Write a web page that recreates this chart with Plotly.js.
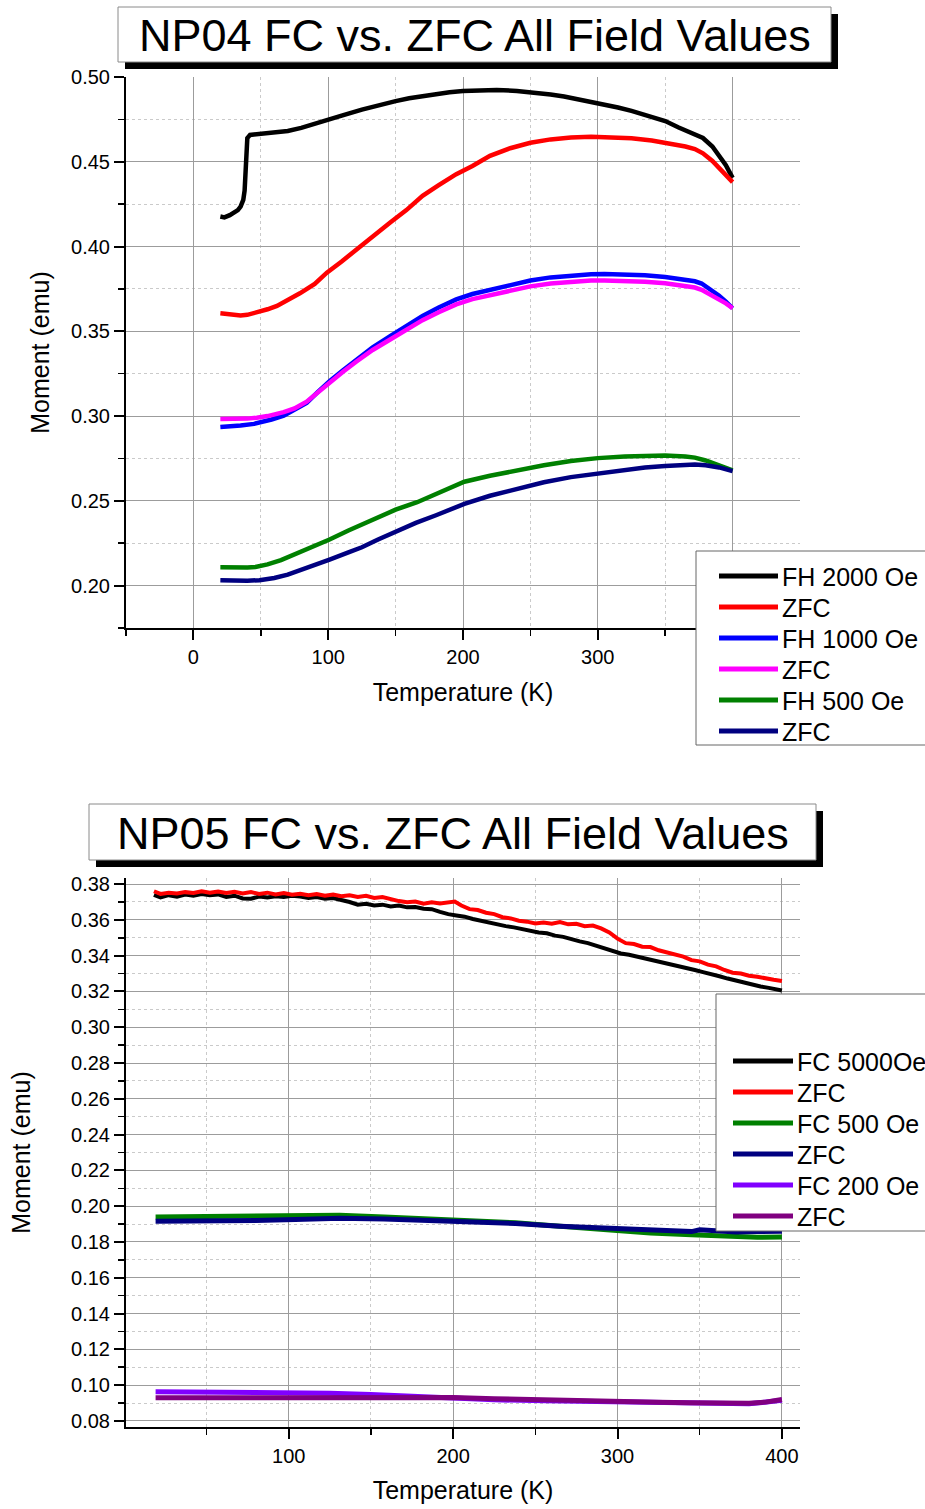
<!DOCTYPE html>
<html>
<head>
<meta charset="utf-8">
<script src="https://cdn.plot.ly/plotly-3.0.1.min.js"></script>
<style>
html,body{margin:0;padding:0;background:#fff;}
#chart{width:925px;height:1509px;}
</style>
</head>
<body>
<div id="chart"></div>
<script>
// ---------------- DATA : NP04 ----------------
const np04Title = 'NP04 FC vs. ZFC All Field Values';
const np04Names = ['FH 2000 Oe', 'ZFC', 'FH 1000 Oe', 'ZFC', 'FH 500 Oe', 'ZFC'];

const np04_fh2000_T = [20, 23, 27, 30, 33, 35, 37, 38, 38.6, 39.2, 40, 42, 45, 50, 60, 70, 80, 90, 100, 110, 125, 140, 150, 160, 175, 190, 200, 210, 225, 240, 250, 265, 275, 290, 300, 315, 325, 340, 350, 360, 367, 372, 378, 385, 390, 395, 400];
const np04_fh2000_M = [0.4177, 0.4172, 0.4185, 0.4197, 0.4215, 0.4235, 0.4275, 0.4330, 0.4400, 0.4550, 0.4640, 0.4658, 0.4660, 0.4662, 0.4670, 0.4682, 0.4700, 0.4722, 0.4747, 0.4772, 0.4808, 0.4840, 0.4858, 0.4875, 0.4894, 0.4910, 0.4917, 0.4921, 0.4923, 0.4918, 0.4912, 0.4897, 0.4885, 0.4862, 0.4847, 0.4820, 0.4800, 0.4765, 0.4740, 0.4702, 0.4680, 0.4665, 0.4640, 0.4590, 0.4540, 0.4480, 0.4405];

const np04_zfc2000_T = [20, 25, 30, 35, 40, 47, 55, 62, 70, 79, 90, 99, 110, 121, 133, 146, 158, 170, 182, 195, 207, 220, 235, 250, 265, 280, 295, 310, 325, 340, 350, 365, 372, 378, 385, 392, 400];
const np04_zfc2000_M = [0.3606, 0.3600, 0.3596, 0.3594, 0.3597, 0.3610, 0.3630, 0.3650, 0.3682, 0.3724, 0.3780, 0.3846, 0.3912, 0.3984, 0.4062, 0.4142, 0.4215, 0.4299, 0.4362, 0.4427, 0.4475, 0.4535, 0.4580, 0.4612, 0.4632, 0.4643, 0.4647, 0.4645, 0.4638, 0.4625, 0.4612, 0.4590, 0.4575, 0.4550, 0.4505, 0.4450, 0.4380];

const np04_fh1000_T = [20, 25, 35, 45, 50, 58, 67, 75, 84, 92, 101, 111, 121, 133, 146, 158, 170, 182, 195, 207, 220, 235, 250, 265, 280, 295, 305, 320, 335, 350, 362, 372, 377, 383, 390, 395, 400];
const np04_fh1000_M = [0.2936, 0.2938, 0.2944, 0.2954, 0.2962, 0.2980, 0.3002, 0.3035, 0.3078, 0.3140, 0.3206, 0.3270, 0.3334, 0.3405, 0.3472, 0.3532, 0.3590, 0.3640, 0.3688, 0.3720, 0.3745, 0.3775, 0.3800, 0.3818, 0.3830, 0.3837, 0.3838, 0.3836, 0.3830, 0.3820, 0.3808, 0.3795, 0.3782, 0.3750, 0.3710, 0.3675, 0.3636];

const np04_zfc1000_T = [20, 30, 40, 47, 55, 67, 75, 84, 92, 101, 111, 121, 133, 146, 158, 170, 182, 195, 207, 220, 235, 250, 265, 280, 295, 305, 320, 335, 350, 362, 372, 377, 383, 390, 395, 400];
const np04_zfc1000_M = [0.2983, 0.2982, 0.2985, 0.2990, 0.3000, 0.3023, 0.3045, 0.3085, 0.3140, 0.3200, 0.3262, 0.3322, 0.3390, 0.3452, 0.3510, 0.3566, 0.3612, 0.3659, 0.3690, 0.3712, 0.3740, 0.3765, 0.3782, 0.3793, 0.3799, 0.3800, 0.3798, 0.3792, 0.3784, 0.3772, 0.3758, 0.3745, 0.3718, 0.3690, 0.3665, 0.3636];

const np04_fh500_T = [20, 30, 40, 46, 55, 65, 78, 90, 101, 115, 125, 137, 150, 166, 180, 201, 220, 245, 260, 280, 300, 320, 335, 350, 365, 372, 380, 390, 400];
const np04_fh500_M = [0.2108, 0.2106, 0.2107, 0.2110, 0.2125, 0.2150, 0.2192, 0.2232, 0.2272, 0.2325, 0.2360, 0.2402, 0.2448, 0.2492, 0.2540, 0.2613, 0.2648, 0.2690, 0.2710, 0.2735, 0.2752, 0.2762, 0.2768, 0.2768, 0.2762, 0.2755, 0.2738, 0.2712, 0.2680];

const np04_zfc500_T = [20, 30, 40, 49, 60, 70, 80, 90, 101, 115, 125, 137, 150, 165, 180, 201, 220, 245, 260, 280, 301, 320, 335, 350, 362, 372, 380, 390, 400];
const np04_zfc500_M = [0.2032, 0.2029, 0.2029, 0.2032, 0.2045, 0.2065, 0.2092, 0.2122, 0.2154, 0.2196, 0.2226, 0.2272, 0.2320, 0.2370, 0.2415, 0.2482, 0.2530, 0.2583, 0.2610, 0.2640, 0.2663, 0.2685, 0.2697, 0.2706, 0.2712, 0.2714, 0.2710, 0.2697, 0.2675];

// ---------------- DATA : NP05 ----------------
const np05Title = 'NP05 FC vs. ZFC All Field Values';
const np05Names = ['FC 5000Oe', 'ZFC', 'FC 500 Oe', 'ZFC', 'FC 200 Oe', 'ZFC'];

const np05_fc5000_T = [18, 22, 27, 32, 37, 42, 47, 52, 57, 62, 67, 72, 77, 82, 87, 92, 97, 102, 107, 112, 117, 122, 127, 132, 137, 142, 147, 152, 157, 162, 167, 172, 177, 182, 187, 192, 197, 202, 207, 212, 217, 222, 227, 232, 237, 242, 247, 252, 257, 262, 267, 272, 277, 282, 287, 292, 297, 302, 307, 312, 317, 322, 327, 332, 337, 342, 347, 352, 357, 362, 367, 372, 377, 382, 387, 392, 397, 400];
const np05_fc5000_M = [0.3740, 0.3725, 0.3738, 0.3730, 0.3742, 0.3735, 0.3745, 0.3738, 0.3742, 0.3728, 0.3735, 0.3720, 0.3718, 0.3730, 0.3725, 0.3732, 0.3728, 0.3735, 0.3730, 0.3722, 0.3728, 0.3718, 0.3722, 0.3712, 0.3700, 0.3685, 0.3690, 0.3680, 0.3685, 0.3675, 0.3680, 0.3670, 0.3672, 0.3662, 0.3660, 0.3645, 0.3632, 0.3625, 0.3618, 0.3605, 0.3595, 0.3580, 0.3572, 0.3565, 0.3558, 0.3548, 0.3540, 0.3530, 0.3525, 0.3512, 0.3505, 0.3490, 0.3480, 0.3470, 0.3455, 0.3440, 0.3425, 0.3412, 0.3405, 0.3395, 0.3385, 0.3372, 0.3362, 0.3352, 0.3340, 0.3330, 0.3320, 0.3308, 0.3298, 0.3285, 0.3272, 0.3260, 0.3250, 0.3238, 0.3228, 0.3220, 0.3212, 0.3205];

const np05_zfc5000_T = [18, 22, 27, 32, 37, 42, 47, 52, 57, 62, 67, 72, 77, 82, 87, 92, 97, 102, 107, 112, 117, 122, 127, 132, 137, 142, 147, 152, 157, 162, 167, 172, 177, 182, 187, 192, 197, 201, 205, 210, 215, 220, 225, 230, 235, 240, 245, 250, 255, 260, 265, 270, 275, 280, 285, 290, 295, 300, 305, 310, 315, 320, 325, 330, 335, 340, 345, 350, 355, 360, 365, 370, 375, 380, 385, 390, 395, 400];
const np05_zfc5000_M = [0.3760, 0.3745, 0.3752, 0.3748, 0.3755, 0.3750, 0.3760, 0.3752, 0.3758, 0.3750, 0.3757, 0.3748, 0.3755, 0.3745, 0.3752, 0.3742, 0.3750, 0.3740, 0.3746, 0.3738, 0.3745, 0.3735, 0.3742, 0.3732, 0.3738, 0.3728, 0.3735, 0.3722, 0.3728, 0.3715, 0.3705, 0.3698, 0.3702, 0.3690, 0.3698, 0.3692, 0.3700, 0.3702, 0.3680, 0.3660, 0.3655, 0.3640, 0.3632, 0.3615, 0.3608, 0.3595, 0.3590, 0.3580, 0.3585, 0.3578, 0.3588, 0.3575, 0.3578, 0.3565, 0.3568, 0.3552, 0.3530, 0.3495, 0.3470, 0.3465, 0.3450, 0.3448, 0.3430, 0.3420, 0.3405, 0.3395, 0.3375, 0.3368, 0.3350, 0.3340, 0.3320, 0.3305, 0.3300, 0.3288, 0.3282, 0.3272, 0.3265, 0.3258];

const np05_fc500_T = [19, 50, 80, 104, 131, 158, 180, 200, 220, 238, 255, 265, 285, 300, 320, 345, 360, 372, 385, 400];
const np05_fc500_M = [0.1940, 0.1944, 0.1948, 0.1950, 0.1950, 0.1940, 0.1932, 0.1925, 0.1916, 0.1907, 0.1895, 0.1888, 0.1872, 0.1860, 0.1850, 0.1841, 0.1834, 0.1828, 0.1826, 0.1828];

const np05_zfc500_T = [19, 51, 80, 104, 131, 158, 180, 200, 220, 238, 265, 285, 300, 320, 345, 350, 372, 385, 400];
const np05_zfc500_M = [0.1916, 0.1916, 0.1920, 0.1925, 0.1932, 0.1929, 0.1922, 0.1916, 0.1910, 0.1903, 0.1888, 0.1880, 0.1873, 0.1865, 0.1858, 0.1868, 0.1856, 0.1858, 0.1860];

const np05_fc200_T = [19, 50, 100, 125, 150, 175, 200, 225, 256, 280, 300, 325, 344, 360, 368, 380, 388, 395, 400];
const np05_fc200_M = [0.0963, 0.0962, 0.0959, 0.0955, 0.0948, 0.0937, 0.0925, 0.0918, 0.0912, 0.0909, 0.0907, 0.0902, 0.0897, 0.0893, 0.0892, 0.0896, 0.0903, 0.0910, 0.0916];

const np05_zfc200_T = [19, 50, 100, 125, 150, 175, 200, 225, 256, 280, 300, 325, 344, 368, 380, 390, 395, 400];
const np05_zfc200_M = [0.0929, 0.0930, 0.0931, 0.0933, 0.0935, 0.0934, 0.0931, 0.0924, 0.0916, 0.0911, 0.0907, 0.0904, 0.0901, 0.0897, 0.0899, 0.0905, 0.0912, 0.0920];

const xTitle = 'Temperature (K)';
const yTitle = 'Moment (emu)';

// ---------------- STYLE ----------------
const W = 925, H = 1509;
const FONT = '"Liberation Sans", Arial, sans-serif';
const np04Colors = ['#000000', '#ff0000', '#0000ff', '#ff00ff', '#008000', '#000080'];
const np05Colors = ['#000000', '#ff0000', '#008000', '#000080', '#8000ff', '#800080'];
const px = v => v / W;
const py = v => 1 - v / H;

function line(name, T, M, color, width, xa, ya) {
  return {type: 'scatter', mode: 'lines', name: name, x: T, y: M, xaxis: xa, yaxis: ya,
          line: {color: color, width: width}, showlegend: false, hoverinfo: 'skip'};
}

const np04Series = [
  [np04_fh2000_T, np04_fh2000_M], [np04_zfc2000_T, np04_zfc2000_M],
  [np04_fh1000_T, np04_fh1000_M], [np04_zfc1000_T, np04_zfc1000_M],
  [np04_fh500_T, np04_fh500_M], [np04_zfc500_T, np04_zfc500_M]
];
const np05Series = [
  [np05_fc5000_T, np05_fc5000_M], [np05_zfc5000_T, np05_zfc5000_M],
  [np05_fc500_T, np05_fc500_M], [np05_zfc500_T, np05_zfc500_M],
  [np05_fc200_T, np05_fc200_M], [np05_zfc200_T, np05_zfc200_M]
];
const np05Widths = [4, 4, 5, 5, 5, 5];

const data = [];
np04Series.forEach((s, i) => data.push(line(np04Names[i], s[0], s[1], np04Colors[i], 4.5, 'x', 'y')));
np05Series.forEach((s, i) => data.push(line(np05Names[i], s[0], s[1], np05Colors[i], np05Widths[i], 'x3', 'y3')));

const tickFont = {family: FONT, size: 20, color: '#000'};
const titleFont = {family: FONT, size: 25, color: '#000'};
const gridMajor = '#9c9c9c';
const gridMinor = '#cacaca';

function mainX(domain, range, anchor, standoff, minorDtick) {
  return {domain: domain, range: range, anchor: anchor, tick0: 0, dtick: 100,
    ticks: 'outside', ticklen: 10, tickwidth: 2, tickcolor: '#000',
    showline: true, linecolor: '#000', linewidth: 2, mirror: false,
    showgrid: true, gridcolor: gridMajor, gridwidth: 1, zeroline: false,
    tickfont: tickFont, automargin: false,
    title: {text: xTitle, font: titleFont, standoff: standoff},
    minor: {tick0: 0, dtick: minorDtick, ticks: 'outside', ticklen: 6, tickwidth: 1.5, tickcolor: '#000',
            showgrid: true, gridcolor: gridMinor, gridwidth: 1, griddash: 'dot'}};
}
function mainY(domain, range, anchor, dtick, minorDtick, standoff) {
  return {domain: domain, range: range, anchor: anchor, tick0: 0, dtick: dtick, tickformat: '.2f',
    ticks: 'outside', ticklen: 10, tickwidth: 2, tickcolor: '#000',
    showline: true, linecolor: '#000', linewidth: 2,
    showgrid: true, gridcolor: gridMajor, gridwidth: 1, zeroline: false,
    tickfont: tickFont, automargin: false,
    title: {text: yTitle, font: titleFont, standoff: standoff},
    minor: {tick0: 0, dtick: minorDtick, ticks: 'outside', ticklen: 6, tickwidth: 1.5, tickcolor: '#000',
            showgrid: true, gridcolor: gridMinor, gridwidth: 1, griddash: 'dot'}};
}
function mirrorX(overlay, anchor, range, minorDtick) {
  return {overlaying: overlay, anchor: anchor, side: 'top', range: range, tick0: 0, dtick: 100,
    ticks: 'inside', ticklen: 10, tickwidth: 2, tickcolor: '#000', showticklabels: false,
    showline: true, linecolor: '#000', linewidth: 2, showgrid: false, zeroline: false,
    minor: {tick0: 0, dtick: minorDtick, ticks: 'inside', ticklen: 6, tickwidth: 1.5, tickcolor: '#000', showgrid: false}};
}
function mirrorY(overlay, anchor, range, dtick, minorDtick) {
  return {overlaying: overlay, anchor: anchor, side: 'right', range: range, tick0: 0, dtick: dtick,
    ticks: 'inside', ticklen: 10, tickwidth: 2, tickcolor: '#000', showticklabels: false,
    showline: true, linecolor: '#000', linewidth: 2, showgrid: false, zeroline: false,
    minor: {tick0: 0, dtick: minorDtick, ticks: 'inside', ticklen: 6, tickwidth: 1.5, tickcolor: '#000', showgrid: false}};
}

const topXRange = [-50, 450], topYRange = [0.175, 0.50];
const botXRange = [1, 411], botYRange = [0.0766, 0.3834];

const shapes = [];
const annotations = [];

function titleBox(x0, y0, x1, y1, text, sh) {
  shapes.push({type: 'rect', xref: 'paper', yref: 'paper', x0: px(x0 + sh), x1: px(x1 + sh), y0: py(y1 + sh), y1: py(y0 + sh),
               fillcolor: '#000', line: {width: 0}, layer: 'above'});
  shapes.push({type: 'rect', xref: 'paper', yref: 'paper', x0: px(x0), x1: px(x1), y0: py(y1), y1: py(y0),
               fillcolor: '#fff', line: {color: '#8a8a8a', width: 1}, layer: 'above'});
  annotations.push({xref: 'paper', yref: 'paper', x: px((x0 + x1) / 2), y: py((y0 + y1) / 2 + 1),
               xanchor: 'center', yanchor: 'middle', showarrow: false, text: text,
               font: {family: FONT, size: 45, color: '#000'}});
}
titleBox(118, 7, 831, 62, np04Title, 7);
titleBox(89, 804, 816, 860, np05Title, 7);

function legendBox(x0, y0, y1, lx0, lx1, tx, rows, names, colors) {
  shapes.push({type: 'rect', xref: 'paper', yref: 'paper', x0: px(x0), x1: px(W + 5), y0: py(y1), y1: py(y0),
               fillcolor: '#fff', line: {color: '#666', width: 1}, layer: 'above'});
  names.forEach((n, i) => {
    shapes.push({type: 'line', xref: 'paper', yref: 'paper', x0: px(lx0), x1: px(lx1), y0: py(rows[i]), y1: py(rows[i]),
                 line: {color: colors[i], width: 5}, layer: 'above'});
    annotations.push({xref: 'paper', yref: 'paper', x: px(tx), y: py(rows[i] + 1), xanchor: 'left', yanchor: 'middle',
                 showarrow: false, text: n, font: {family: FONT, size: 25, color: '#000'}});
  });
}
legendBox(696, 551, 745, 719, 778, 780, [576, 607, 638, 669, 700, 731], np04Names, np04Colors);
legendBox(716, 994, 1231, 733, 793, 795, [1061, 1092, 1123, 1154, 1185, 1216], np05Names, np05Colors);

const layout = {
  width: W, height: H, margin: {l: 0, r: 0, t: 0, b: 0},
  paper_bgcolor: '#fff', plot_bgcolor: '#fff', showlegend: false,
  font: {family: FONT, color: '#000'},
  xaxis: mainX([px(126), px(800)], topXRange, 'y', 16, 50),
  yaxis: mainY([py(628), py(77)], topYRange, 'x', 0.05, 0.025, 14),
  xaxis2: mirrorX('x', 'y', topXRange, 50),
  yaxis2: mirrorY('y', 'x', topYRange, 0.05, 0.025),
  xaxis3: mainX([px(126), px(800)], botXRange, 'y3', 15, 50),
  yaxis3: mainY([py(1427), py(878)], botYRange, 'x3', 0.02, 0.01, 33),
  xaxis4: mirrorX('x3', 'y3', botXRange, 50),
  yaxis4: mirrorY('y3', 'x3', botYRange, 0.02, 0.01),
  shapes: shapes,
  annotations: annotations
};

Plotly.newPlot('chart', data, layout, {staticPlot: true, displayModeBar: false});
</script>
</body>
</html>
